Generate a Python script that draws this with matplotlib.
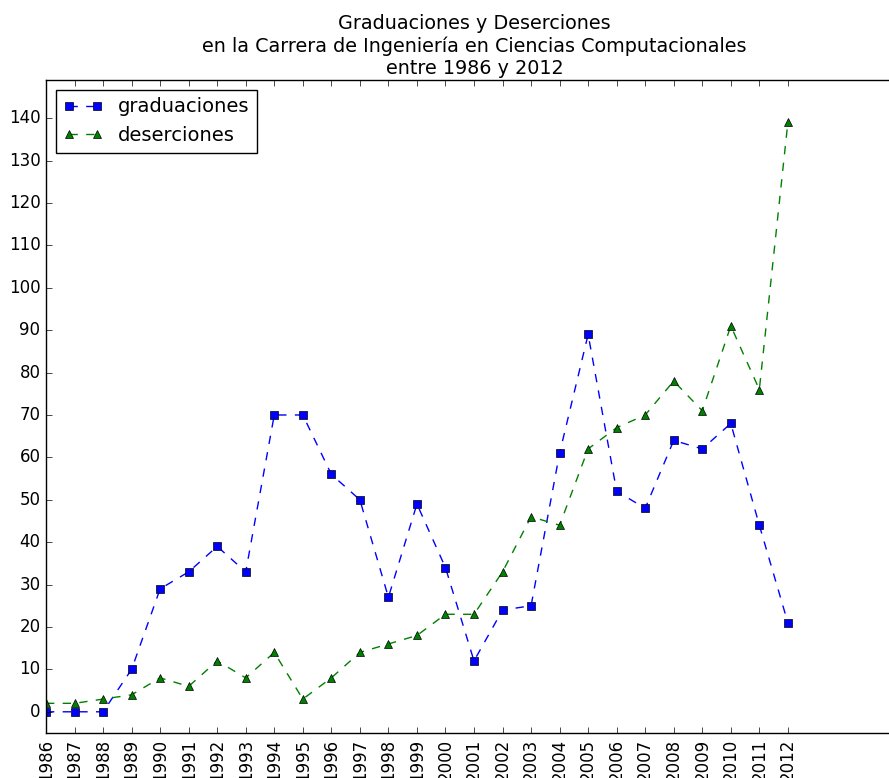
import matplotlib
matplotlib.use("Agg")
import matplotlib.pyplot as plt

plt.style.use('classic')

years = list(range(1986, 2013))
graduaciones = [0, 0, 0, 10, 29, 33, 39, 33, 70, 70, 56, 50, 27, 49, 34, 12, 24, 25, 61, 89, 52, 48, 64, 62, 68, 44, 21]
deserciones = [2, 2, 3, 4, 8, 6, 12, 8, 14, 3, 8, 14, 16, 18, 23, 23, 33, 46, 44, 62, 67, 70, 78, 71, 91, 76, 139]
title = "Graduaciones y Deserciones\nen la Carrera de Ingeniería en Ciencias Computacionales\nentre 1986 y 2012"

fig = plt.figure(figsize=(8.89, 7.78), dpi=100)
ax = fig.add_axes([46/889, 45/778, (902-46)/889, (733-80)/778])
ax.plot(years, graduaciones, 'bs--', label='graduaciones', markersize=6)
ax.plot(years, deserciones, 'g^--', label='deserciones', markersize=6)
ax.set_xlim(1986, 2016)
ax.set_ylim(-5, 149)
ax.set_xticks(years)
ax.set_xticklabels([str(y) for y in years], rotation=90)
ax.set_yticks(range(0, 150, 10))
ax.tick_params(labelsize=12)
ax.legend(loc='upper left', fontsize=14, numpoints=2)
fig.text(0.534, 0.9, title, ha='center', va='bottom', fontsize=13.8,
         linespacing=1.2)
fig.savefig('out.png', dpi=100)
